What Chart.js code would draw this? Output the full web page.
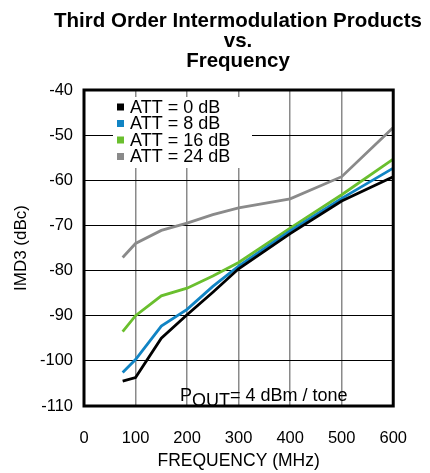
<!DOCTYPE html>
<html>
<head>
<meta charset="utf-8">
<script src="https://cdn.jsdelivr.net/npm/chart.js@4.4.1/dist/chart.umd.min.js"></script>
<style>
    html, body { margin: 0; padding: 0; background: #fff; }
    #wrap { width: 430px; height: 473px; position: relative; }
</style>
</head>
<body>
<div id="wrap"><canvas id="imdChart"></canvas></div>
<script>
// Data
const frequency = [75, 100, 150, 200, 250, 300, 400, 500, 600];
const att0 = [-104.5, -103.7, -95, -89.8, -84.8, -79.6, -71.8, -64.6, -59.2];
const att8 = [-102.6, -99.7, -92.3, -88.6, -83.5, -79, -71.2, -64, -57.3];
const att16 = [-93.5, -90, -85.6, -83.9, -81.2, -78.2, -70.6, -63.2, -55.3];
const att24 = [-77.1, -74, -71.1, -69.5, -67.6, -66.1, -64.1, -59.2, -48.3];

const seriesLabels = ['ATT = 0 dB', 'ATT = 8 dB', 'ATT = 16 dB', 'ATT = 24 dB'];
const seriesColors = ['#000000', '#1184c4', '#6abf2e', '#8a8a8a'];
const titleLines = ['Third Order Intermodulation Products', 'vs.', 'Frequency'];

const FONT = '"Liberation Sans", Arial, Helvetica, sans-serif';

function toPoints(values) {
    return frequency.map((f, i) => ({ x: f, y: values[i] }));
}

// legend box, title, frame and Pout note
const decorPlugin = {
    id: 'decor',
    beforeDatasetsDraw(chart) {
        const { ctx, chartArea } = chart;
        const bx = chartArea.left + 29;
        const by = chartArea.top + 7;
        ctx.save();
        ctx.fillStyle = '#fff';
        ctx.fillRect(bx, by, 139, 71);
        ctx.font = '18px ' + FONT;
        ctx.textBaseline = 'middle';
        ctx.textAlign = 'left';
        chart.data.datasets.forEach((ds, i) => {
            const cy = by + 10 + i * 16.5;
            ctx.fillStyle = ds.borderColor;
            ctx.fillRect(bx + 4, cy - 3.5, 7, 7);
            ctx.fillStyle = '#000';
            ctx.fillText(ds.label, bx + 17, cy + 1);
        });
        ctx.restore();
    },
    afterDraw(chart) {
        const { ctx, chartArea } = chart;
        ctx.save();
        // frame
        ctx.strokeStyle = '#000';
        ctx.lineWidth = 3;
        ctx.strokeRect(chartArea.left, chartArea.top, chartArea.right - chartArea.left, chartArea.bottom - chartArea.top);

        // title
        ctx.fillStyle = '#000';
        ctx.textAlign = 'center';
        ctx.textBaseline = 'alphabetic';
        ctx.font = 'bold 20.5px ' + FONT;
        titleLines.forEach((t, i) => ctx.fillText(t, 238, 27 + i * 20));

        // POUT = 4 dBm / tone
        ctx.textAlign = 'left';
        ctx.font = '18px ' + FONT;
        let x = chartArea.left + 96;
        const base = chartArea.bottom - 5;
        ctx.fillText('P', x, base);
        x += ctx.measureText('P').width;
        ctx.fillText('OUT', x, base + 5);
        x += ctx.measureText('OUT').width;
        ctx.fillText('= 4 dBm / tone', x, base);
        ctx.restore();
    }
};

function init() {
    const ctx = document.getElementById('imdChart').getContext('2d');
    Chart.defaults.font.family = FONT;
    Chart.defaults.color = '#000';

    const seriesData = [att0, att8, att16, att24];

    new Chart(ctx, {
        type: 'line',
        data: {
            datasets: seriesData.map((vals, i) => ({
                label: seriesLabels[i],
                data: toPoints(vals),
                borderColor: seriesColors[i],
                backgroundColor: seriesColors[i],
                borderWidth: 2.8,
                pointRadius: 0,
                tension: 0,
                fill: false
            }))
        },
        options: {
            responsive: true,
            maintainAspectRatio: false,
            animation: false,
            layout: { padding: { left: 0, right: 27, top: 90, bottom: 0 } },
            plugins: {
                legend: { display: false },
                title: { display: false },
                tooltip: { enabled: false }
            },
            scales: {
                x: {
                    type: 'linear',
                    min: 0,
                    max: 600,
                    ticks: { stepSize: 100, padding: 23, maxRotation: 0, font: { size: 16.5 } },
                    grid: { color: '#8a8a8a', lineWidth: 1.5, drawTicks: false },
                    border: { display: false },
                    title: { display: true, text: 'FREQUENCY (MHz)', font: { size: 17.5 }, padding: { top: 0, bottom: 1 } },
                    afterFit(scale) { scale.height = 67; }
                },
                y: {
                    min: -110,
                    max: -40,
                    ticks: { stepSize: 10, padding: 11, font: { size: 16.5 } },
                    grid: { color: '#000', lineWidth: 1, drawTicks: false },
                    border: { display: false },
                    title: { display: true, text: 'IMD3 (dBc)', font: { size: 17 }, padding: { top: 11, bottom: 0 } },
                    afterFit(scale) { scale.width = 84; }
                }
            }
        },
        plugins: [decorPlugin]
    });
}

document.addEventListener('DOMContentLoaded', init);
</script>
</body>
</html>
